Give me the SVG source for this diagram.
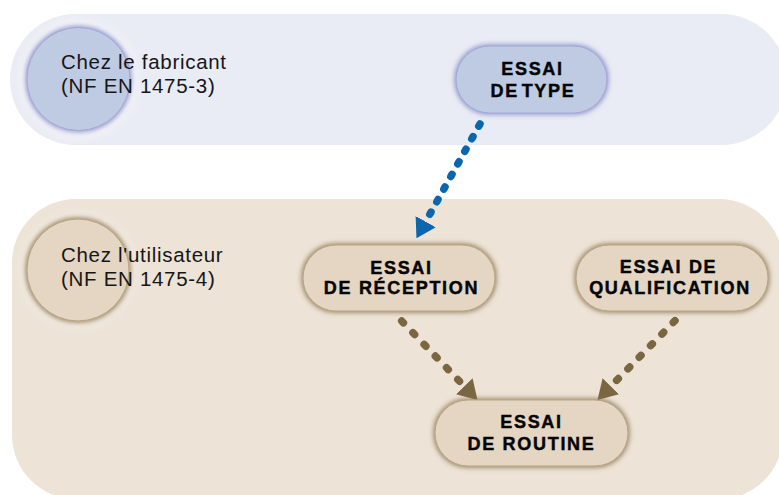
<svg xmlns="http://www.w3.org/2000/svg" width="779" height="495" viewBox="0 0 779 495">
<defs>
<style>
.reg{font-family:"Liberation Sans",Arial,sans-serif;font-size:20.5px;letter-spacing:0.7px;fill:#161616}
.bold{font-family:"Liberation Sans",Arial,sans-serif;font-size:18px;font-weight:bold;letter-spacing:1.7px;fill:#050505;stroke:#050505;stroke-width:0.45px;text-anchor:middle}
.nb{fill:#bfcbe3;stroke:#a3a8d6;stroke-width:1;filter:url(#glowB)}
.nw{fill:#e4d6c3;stroke:#b8a584;stroke-width:1;filter:url(#glowW)}
.blue{fill:none;stroke:#0a66ae;stroke-width:7.5;stroke-linecap:round;stroke-dasharray:2.5 11.9}
.brown{fill:none;stroke:#7b6642;stroke-width:7.5;stroke-linecap:round;stroke-dasharray:2.5 13.7}
</style>
<filter id="glowB" x="-30%" y="-30%" width="160%" height="160%">
<feMorphology in="SourceAlpha" operator="dilate" radius="1" result="d"/>
<feGaussianBlur in="d" stdDeviation="2.8" result="b"/>
<feFlood flood-color="#7d84c4" flood-opacity="0.85"/>
<feComposite in2="b" operator="in" result="g"/>
<feMerge><feMergeNode in="g"/><feMergeNode in="SourceGraphic"/></feMerge>
</filter>
<filter id="glowW" x="-30%" y="-30%" width="160%" height="160%">
<feMorphology in="SourceAlpha" operator="dilate" radius="1" result="d"/>
<feGaussianBlur in="d" stdDeviation="2.8" result="b"/>
<feFlood flood-color="#8a7148" flood-opacity="0.85"/>
<feComposite in2="b" operator="in" result="g"/>
<feMerge><feMergeNode in="g"/><feMergeNode in="SourceGraphic"/></feMerge>
</filter>
<filter id="halo" x="-50%" y="-50%" width="200%" height="200%">
<feGaussianBlur stdDeviation="5"/>
</filter>
<marker id="ahBlue" viewBox="0 0 19 23" refX="0" refY="11.5" markerWidth="19" markerHeight="23" markerUnits="userSpaceOnUse" orient="auto">
<path d="M0,0 L19,11.5 L0,23 Z" fill="#0a66ae"/>
</marker>
<marker id="ahBrown" viewBox="0 0 19 23" refX="0" refY="11.5" markerWidth="19" markerHeight="23" markerUnits="userSpaceOnUse" orient="auto">
<path d="M0,0 L19,11.5 L0,23 Z" fill="#7b6642"/>
</marker>
</defs>

<rect width="779" height="495" fill="#ffffff"/>

<g id="zone-fabricant">
<rect x="10" y="14" width="777" height="131" rx="65.5" fill="#e9ecf4"/>
<circle cx="78.5" cy="79" r="59" fill="#f4f4f8" filter="url(#halo)"/>
<circle cx="78.5" cy="79" r="51.5" class="nb"/>
<text class="reg" x="61" y="69">Chez le fabricant</text>
<text class="reg" x="61" y="93">(NF EN 1475-3)</text>
</g>

<g id="zone-utilisateur">
<rect x="12" y="199" width="771" height="300" rx="64" fill="#ede3d7"/>
<circle cx="78" cy="270" r="58" fill="#f2ebe2" filter="url(#halo)"/>
<circle cx="78" cy="270" r="51" class="nw"/>
<text class="reg" x="61" y="262">Chez l'utilisateur</text>
<text class="reg" x="61" y="286">(NF EN 1475-4)</text>
</g>

<g id="connectors">
<path class="blue" d="M480,124 L425.7,221.7" marker-end="url(#ahBlue)"/>
<path class="brown" d="M401.7,321 L464.3,386.3" marker-end="url(#ahBrown)"/>
<path class="brown" d="M675,320.7 L610.8,386.3" marker-end="url(#ahBrown)"/>
</g>

<g id="node-type">
<rect x="456" y="46" width="151" height="67" rx="33.5" class="nb"/>
<text class="bold" x="532.5" y="74.5">ESSAI</text>
<text class="bold" x="533" y="96.5" word-spacing="-4">DE TYPE</text>
</g>

<g id="node-reception">
<rect x="303" y="245" width="192" height="66" rx="33" class="nw"/>
<text class="bold" x="401.5" y="273.5">ESSAI</text>
<text class="bold" x="401.5" y="294">DE RÉCEPTION</text>
</g>

<g id="node-qualification">
<rect x="576" y="245" width="192" height="66" rx="33" class="nw"/>
<text class="bold" x="668.5" y="272.5">ESSAI DE</text>
<text class="bold" x="670" y="294">QUALIFICATION</text>
</g>

<g id="node-routine">
<rect x="435" y="400" width="193" height="66" rx="33" class="nw"/>
<text class="bold" x="531.5" y="428">ESSAI</text>
<text class="bold" x="531.5" y="449.8">DE ROUTINE</text>
</g>
</svg>
